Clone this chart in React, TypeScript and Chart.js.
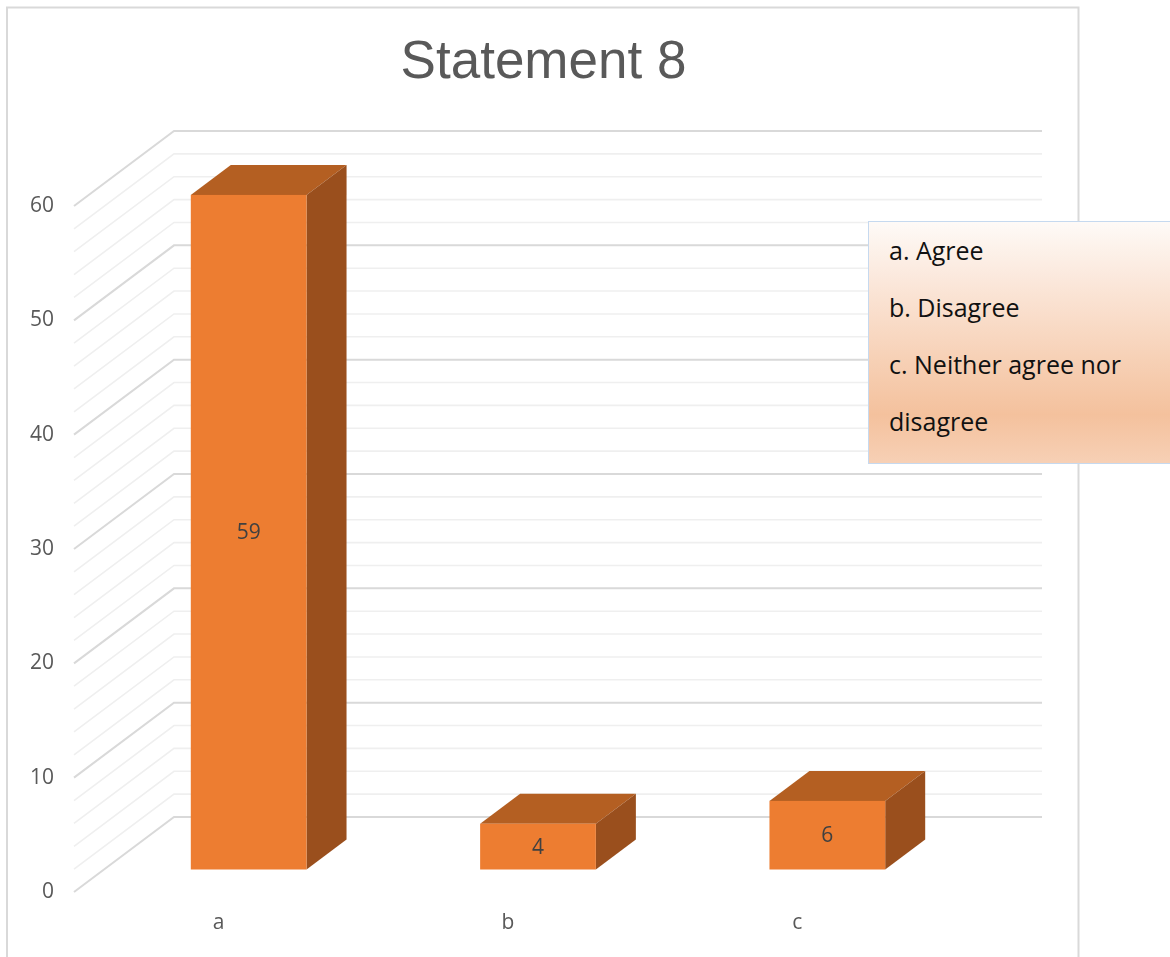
import React, { useEffect, useRef } from "react";
import { Chart, registerables } from "chart.js";

Chart.register(...registerables);

const categories = ["a", "b", "c"];
const values = [59, 4, 6];
const legendItems = ["a. Agree", "b. Disagree", "c. Neither agree nor disagree"];
const titleText = "Statement 8";
const yMin = 0;
const yMax = 60;
const yMajorStep = 10;
const yMinorStep = 2;

const DX = 100;
const DY = -75;
const BAR_FRONT = 0.3;
const BAR_BACK = 0.7;

const threeD = {
  id: "threeD",
  beforeDatasetsDraw(chart: any) {
    const { ctx, chartArea } = chart;
    const ys = chart.scales.y;
    ctx.save();
    // outer border
    ctx.strokeStyle = "#d9d9d9";
    ctx.lineWidth = 2;
    ctx.strokeRect(7, 7.5, 1071.5, 1000);
    // title
    ctx.fillStyle = "#595959";
    ctx.font = '53px "Liberation Sans", Arial, sans-serif';
    ctx.textAlign = "center";
    ctx.textBaseline = "alphabetic";
    ctx.fillText(titleText, 543.5, 78);
    // grid
    const left = chartArea.left;
    const right = chartArea.right;
    for (let v = yMin; v <= yMax + 1e-9; v += yMinorStep) {
      const major = Math.abs(v % yMajorStep) < 1e-9;
      const y = ys.getPixelForValue(v);
      ctx.strokeStyle = major ? "#d9d9d9" : "#efefef";
      ctx.lineWidth = major ? 2 : 1.6;
      ctx.beginPath();
      ctx.moveTo(left, y);
      ctx.lineTo(left + DX, y + DY);
      ctx.lineTo(right + DX, y + DY);
      ctx.stroke();
    }
    ctx.restore();
  },
  afterDatasetsDraw(chart: any) {
    const { ctx } = chart;
    const meta = chart.getDatasetMeta(0);
    ctx.save();
    meta.data.forEach((el: any, i: number) => {
      const p = el.getProps(["x", "y", "base", "width"], true);
      const ox = BAR_FRONT * DX;
      const oy = BAR_FRONT * DY;
      const bx = (BAR_BACK - BAR_FRONT) * DX;
      const by = (BAR_BACK - BAR_FRONT) * DY;
      const l = p.x - p.width / 2 + ox;
      const r = p.x + p.width / 2 + ox;
      const t = p.y + oy;
      const b = p.base + oy;
      // top face
      ctx.fillStyle = "#b45f22";
      ctx.beginPath();
      ctx.moveTo(l, t);
      ctx.lineTo(r, t);
      ctx.lineTo(r + bx, t + by);
      ctx.lineTo(l + bx, t + by);
      ctx.closePath();
      ctx.fill();
      // side face
      ctx.fillStyle = "#9a4f1d";
      ctx.beginPath();
      ctx.moveTo(r, t);
      ctx.lineTo(r + bx, t + by);
      ctx.lineTo(r + bx, b + by);
      ctx.lineTo(r, b);
      ctx.closePath();
      ctx.fill();
      // front face
      ctx.fillStyle = "#ed7d31";
      ctx.fillRect(l, t, r - l, b - t);
      // label
      ctx.fillStyle = "#404040";
      ctx.font = '21px "Open Sans", sans-serif';
      ctx.textAlign = "center";
      ctx.textBaseline = "middle";
      ctx.fillText(String(values[i]), (l + r) / 2, (t + b) / 2 + 1);
    });
    ctx.restore();
  },
};

export default function App() {
  const ref = useRef<HTMLCanvasElement>(null);
  useEffect(() => {
    if (!ref.current) return;
    const chart = new Chart(ref.current, {
      type: "bar",
      data: {
        labels: categories,
        datasets: [
          {
            data: values,
            backgroundColor: "rgba(0,0,0,0)",
            borderWidth: 0,
            barPercentage: 0.4,
            categoryPercentage: 1,
          },
        ],
      },
      options: {
        responsive: false,
        animation: false,
        layout: { padding: { top: 206, right: 228, bottom: 0, left: 0 } },
        plugins: {
          legend: { display: false },
          title: { display: false },
          tooltip: { enabled: false },
        },
        scales: {
          x: {
            grid: { display: false, drawTicks: false },
            border: { display: false },
            ticks: {
              color: "#595959",
              font: { family: '"Open Sans", sans-serif', size: 21 },
              padding: 18,
            },
            afterFit: (s: any) => {
              s.height = 65;
            },
          },
          y: {
            min: yMin,
            max: yMax,
            grid: { display: false, drawTicks: false },
            border: { display: false },
            ticks: {
              stepSize: yMajorStep,
              color: "#595959",
              font: { family: '"Open Sans", sans-serif', size: 21 },
              padding: 20,
            },
            afterFit: (s: any) => {
              s.width = 74;
            },
          },
        },
      },
      plugins: [threeD],
    });
    return () => chart.destroy();
  }, []);

  return (
    <div style={{ position: "fixed", left: 0, top: 0, width: 1170, height: 957, background: "#fff", overflow: "hidden" }}>
      <canvas ref={ref} width={1170} height={957} style={{ width: 1170, height: 957, display: "block" }} />
      <div
        style={{
          position: "absolute",
          left: 868,
          top: 221,
          width: 320,
          height: 243,
          boxSizing: "border-box",
          border: "1px solid #c6d9ef",
          background:
            "linear-gradient(to bottom, #fefaf7 0%, #fbe7da 25%, #f7d2b8 55%, #f4c19d 80%, #f7d0b5 100%)",
          paddingLeft: 20,
          paddingTop: 0,
          fontFamily: '"Open Sans", sans-serif',
          fontSize: 25,
          lineHeight: "57px",
          color: "#111",
        }}
      >
        {legendItems.map((t) => (
          <div key={t} style={{ width: 265 }}>
            {t}
          </div>
        ))}
      </div>
    </div>
  );
}
